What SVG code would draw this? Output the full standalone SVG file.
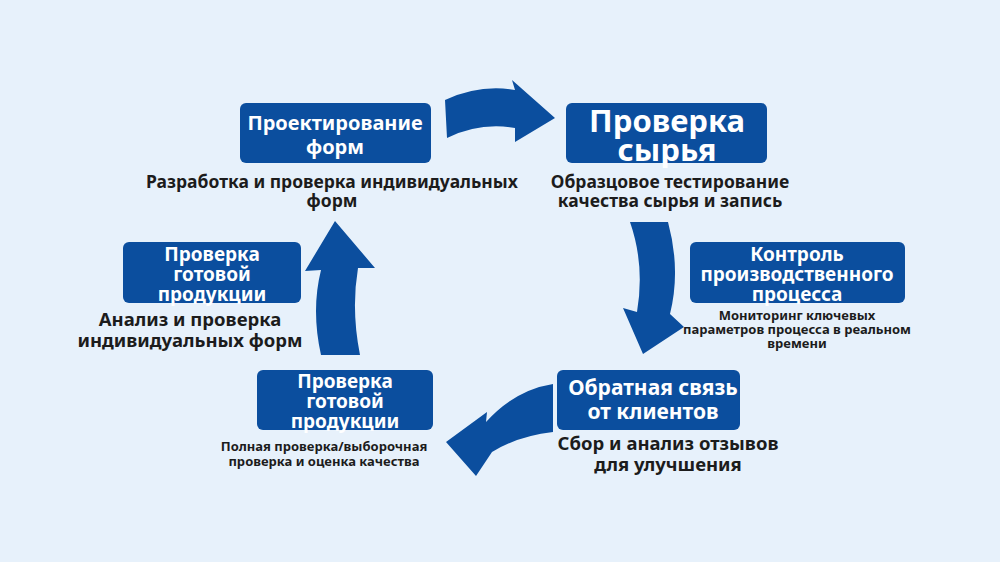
<svg xmlns="http://www.w3.org/2000/svg" width="1000" height="562" viewBox="0 0 1000 562">
<style>
.b{fill:#0b4e9e}
.t{fill:#fff;font-family:"Noto Sans","Open Sans",sans-serif;font-weight:bold;text-anchor:middle}
.d{fill:#1c1c1c;font-family:"Noto Sans","Open Sans",sans-serif;font-weight:bold;text-anchor:middle}
</style>
<rect width="1000" height="562" fill="#e7f1fb"/>
<g id="connectors" class="b">
<path d="M445,100 Q480,84 515,90 L512,80 L555,118 L515,142 L515,128 Q480,122 447,138 Z"/>
<path d="M630,222 L668,222 Q681,270 670,314 L684,327 L643,354 L623,308 L637,312 Q645,265 630,222 Z"/>
<path d="M553,384 L553,432 Q518,436 492,452 L476,476 L446,442 L487,412 L486,422 Q515,390 553,384 Z"/>
<path d="M321,355 Q311,310 321,270 L305,271 L335,221 L375,268 L358,268 Q351,310 360,355 Z"/>
</g>
<g id="n1"><rect class="b" x="240" y="103" width="191" height="60" rx="6"/>
<text class="t" font-size="20" x="335" y="130">Проектирование</text><text class="t" font-size="20" x="335" y="154">форм</text>
<text class="d" font-size="17.5" x="332" y="188">Разработка и проверка индивидуальных</text><text class="d" font-size="17.5" x="332" y="207">форм</text></g>
<g id="n2"><rect class="b" x="566" y="103" width="201" height="60" rx="6"/>
<text class="t" font-size="31" x="667" y="132">Проверка</text><text class="t" font-size="31" x="667" y="161">сырья</text>
<text class="d" font-size="17.5" x="670" y="188">Образцовое тестирование</text><text class="d" font-size="17.5" x="670" y="207">качества сырья и запись</text></g>
<g id="n3"><rect class="b" x="690" y="242" width="215" height="61" rx="6"/>
<text class="t" font-size="19" x="797" y="261">Контроль</text><text class="t" font-size="19" x="797" y="281">производственного</text><text class="t" font-size="19" x="797" y="301">процесса</text>
<text class="d" font-size="13" x="797" y="320">Мониторинг ключевых</text><text class="d" font-size="13" x="797" y="334">параметров процесса в реальном</text><text class="d" font-size="13" x="797" y="348">времени</text></g>
<g id="n4"><rect class="b" x="123" y="242" width="178" height="61" rx="6"/>
<text class="t" font-size="19" x="212" y="261">Проверка</text><text class="t" font-size="19" x="212" y="281">готовой</text><text class="t" font-size="19" x="212" y="301">продукции</text>
<text class="d" font-size="18.5" x="190" y="326">Анализ и проверка</text><text class="d" font-size="18.5" x="190" y="347">индивидуальных форм</text></g>
<g id="n5"><rect class="b" x="257" y="370" width="176" height="60" rx="6"/>
<text class="t" font-size="19" x="345" y="388">Проверка</text><text class="t" font-size="19" x="345" y="408">готовой</text><text class="t" font-size="19" x="345" y="428">продукции</text>
<text class="d" font-size="13" x="324" y="451">Полная проверка/выборочная</text><text class="d" font-size="13" x="324" y="466">проверка и оценка качества</text></g>
<g id="n6"><rect class="b" x="557" y="370" width="183" height="60" rx="6"/>
<text class="t" font-size="21" x="653" y="395">Обратная связь</text><text class="t" font-size="21" x="653" y="419">от клиентов</text>
<text class="d" font-size="18.5" x="668" y="450">Сбор и анализ отзывов</text><text class="d" font-size="18.5" x="668" y="471">для улучшения</text></g>
</svg>
